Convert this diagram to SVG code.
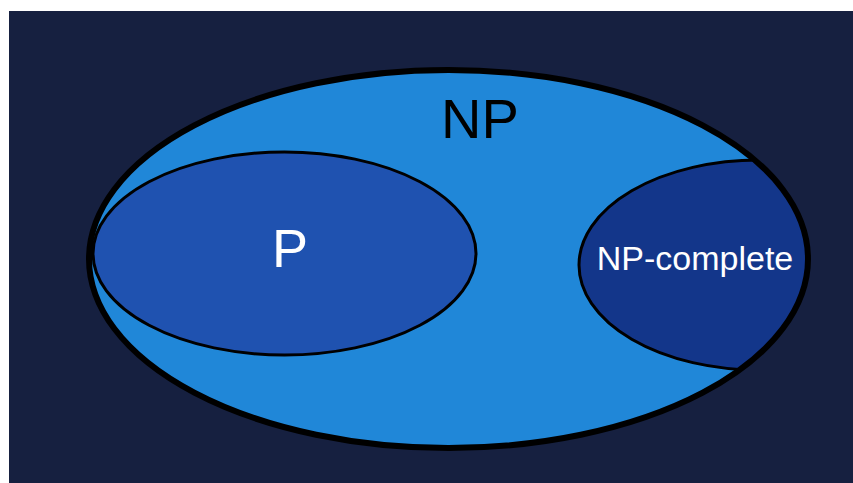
<svg xmlns="http://www.w3.org/2000/svg" width="853" height="483" viewBox="0 0 853 483">
  <style>
    .lbl { font-family: "Liberation Sans", Arial, Helvetica, sans-serif; text-anchor: middle; }
    .inner { stroke: #000; stroke-width: 3; }
  </style>
  <defs>
    <clipPath id="npClip">
      <ellipse cx="448.5" cy="259" rx="359.5" ry="189"/>
    </clipPath>
  </defs>
  <rect x="0" y="0" width="853" height="483" fill="#ffffff"/>
  <rect x="9" y="11" width="844" height="472" fill="#162040"/>
  <g id="np">
    <ellipse cx="448.5" cy="259" rx="359.5" ry="189" fill="#2087d8"/>
    <text class="lbl" x="480" y="138" font-size="56" fill="#000">NP</text>
  </g>
  <g id="p">
    <ellipse class="inner" cx="284.5" cy="253.5" rx="191.5" ry="101.5" fill="#1f52b0"/>
    <text class="lbl" x="290" y="267" font-size="54" fill="#ffffff">P</text>
  </g>
  <g id="np-complete">
    <ellipse class="inner" cx="759" cy="265" rx="180" ry="105" fill="#13368a" clip-path="url(#npClip)"/>
    <text class="lbl" x="695" y="270" font-size="34" fill="#ffffff">NP-complete</text>
  </g>
  <g id="np-border">
    <ellipse cx="448.5" cy="259" rx="359.5" ry="189" fill="none" stroke="#000" stroke-width="6"/>
  </g>
  <g id="connectors"></g>
</svg>
